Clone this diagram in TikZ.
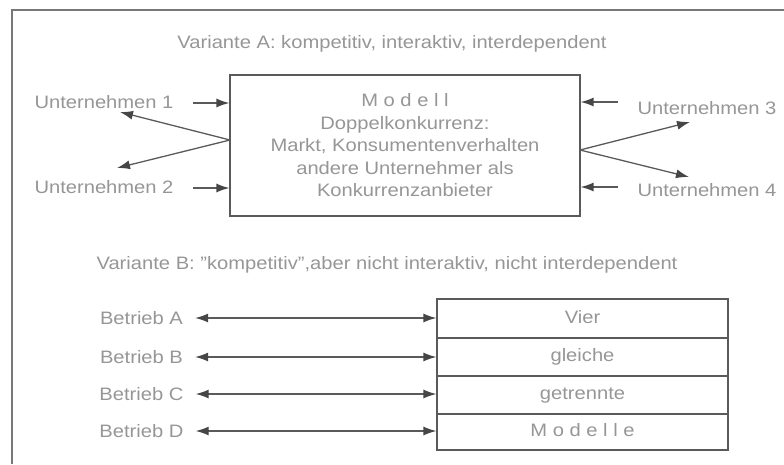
\documentclass[tikz,border=0pt]{standalone}
\usepackage{fontspec}
\setmainfont[FakeStretch=1.12]{Liberation Sans}
\usetikzlibrary{arrows.meta}

\definecolor{txtgray}{RGB}{150,150,150}
\definecolor{linegray}{RGB}{90,90,90}
\definecolor{headgray}{RGB}{70,70,70}
\definecolor{framegray}{RGB}{120,120,120}

\begin{document}
\begin{tikzpicture}[x=1pt,y=-1pt,
  lbl/.style={text=txtgray, font=\fontsize{18}{22.5}\selectfont, inner sep=0pt},
  boxstyle/.style={draw=linegray, line width=1.2pt, text=txtgray,
    font=\fontsize{18}{22.5}\selectfont, align=center, inner sep=0pt},
  arr/.style={draw=linegray, line width=1.3pt,
    -{Latex[length=13pt,width=9pt,color=headgray]}},
  dblarr/.style={draw=linegray, line width=1.3pt,
    {Latex[length=13pt,width=9pt,color=headgray]}-{Latex[length=13pt,width=9pt,color=headgray]}}
]
\useasboundingbox (0,0) rectangle (784,464);

% outer frame (open to the right and bottom)
\draw[framegray, line width=1.2pt] (12,464) -- (12,10) -- (784,10);

% ---------- Variante A ----------
\node[lbl] (titleA) at (392,44) {Variante A: kompetitiv, interaktiv, interdependent};

\node[boxstyle, minimum width=350pt, minimum height=141pt] (modell) at (405,145.5)
  {M o d e l l\\Doppelkonkurrenz:\\Markt, Konsumentenverhalten\\andere Unternehmer als\\Konkurrenzanbieter};

\node[lbl] (u1) at (104,102) {Unternehmen 1};
\node[lbl] (u2) at (104,187) {Unternehmen 2};
\node[lbl] (u3) at (707,108) {Unternehmen 3};
\node[lbl] (u4) at (707,190) {Unternehmen 4};

% inputs into the model
\coordinate (in1) at (193,103);
\coordinate (in2) at (193,188);
\coordinate (in3) at (618,102);
\coordinate (in4) at (618,187);
\draw[arr] (in1) -- (in1 -| modell.west);
\draw[arr] (in2) -- (in2 -| modell.west);
\draw[arr] (in3) -- (in3 -| modell.east);
\draw[arr] (in4) -- (in4 -| modell.east);

% outputs fanning out of the model
\coordinate (fanL) at (230,140);
\coordinate (fanR) at (580,150);
\coordinate (out1) at (120,112);
\coordinate (out2) at (117,168);
\coordinate (out3) at (690,122);
\coordinate (out4) at (689,177);
\draw[arr] (fanL) -- (out1);
\draw[arr] (fanL) -- (out2);
\draw[arr] (fanR) -- (out3);
\draw[arr] (fanR) -- (out4);

% ---------- Variante B ----------
\node[lbl] (titleB) at (387,265)
  {Variante B: \char"22 kompetitiv\char"22,aber nicht interaktiv, nicht interdependent};

\node[boxstyle, minimum width=291pt, minimum height=39pt, text height=13pt, text depth=4pt] (rA) at (582.5,318.5) {Vier};
\node[boxstyle, minimum width=291pt, minimum height=38pt, text height=13pt, text depth=4pt] (rB) at (582.5,357) {gleiche};
\node[boxstyle, minimum width=291pt, minimum height=38pt, text height=13pt, text depth=4pt] (rC) at (582.5,395) {getrennte};
\node[boxstyle, minimum width=291pt, minimum height=36pt, text height=13pt, text depth=4pt] (rD) at (582.5,432) {M o d e l l e};

\node[lbl] (bA) at (141.5,318) {Betrieb A};
\node[lbl] (bB) at (141.5,357) {Betrieb B};
\node[lbl] (bC) at (141.5,394) {Betrieb C};
\node[lbl] (bD) at (141.5,431) {Betrieb D};

\draw[dblarr] ([xshift=12pt]bA.east) -- (bA.east -| rA.west);
\draw[dblarr] ([xshift=12pt]bB.east) -- (bB.east -| rB.west);
\draw[dblarr] ([xshift=12pt]bC.east) -- (bC.east -| rC.west);
\draw[dblarr] ([xshift=12pt]bD.east) -- (bD.east -| rD.west);
\end{tikzpicture}
\end{document}
